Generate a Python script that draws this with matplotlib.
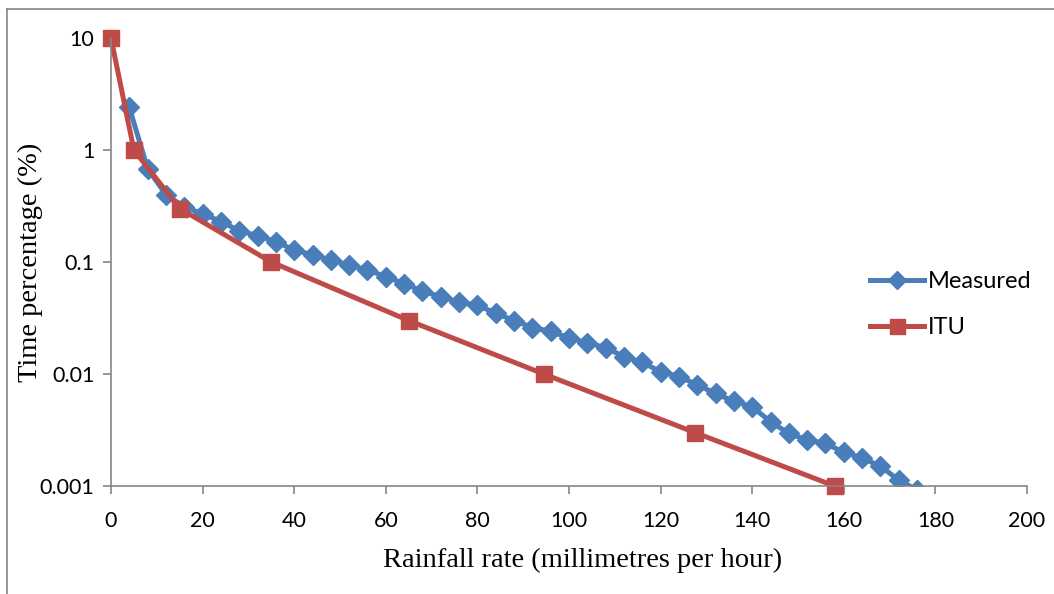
import matplotlib
matplotlib.use("Agg")
import matplotlib.pyplot as plt
from matplotlib.lines import Line2D

# measured exceedance curve (every 4 mm/h)
measured_rate = [4, 8, 12, 16, 20, 24, 28, 32, 36, 40, 44, 48, 52, 56, 60,
                 64, 68, 72, 76, 80, 84, 88, 92, 96, 100, 104, 108, 112, 116,
                 120, 124, 128, 132, 136, 140, 144, 148, 152, 156, 160, 164,
                 168, 172, 176]
measured_pct = [2.4, 0.68, 0.40, 0.31, 0.27, 0.23, 0.19, 0.172, 0.152, 0.128,
                0.116, 0.104, 0.094, 0.085, 0.074, 0.064, 0.055, 0.049, 0.044,
                0.041, 0.035, 0.030, 0.026, 0.024, 0.021, 0.019, 0.0172,
                0.0143, 0.0127, 0.0105, 0.0095, 0.0080, 0.0067, 0.0057,
                0.0051, 0.00375, 0.00295, 0.00257, 0.0024, 0.0020, 0.00178,
                0.0015, 0.00113, 0.00092]

# ITU-R prediction
itu_rate = [0, 5, 15, 35, 65, 94.5, 127.5, 158]
itu_pct = [10, 1, 0.3, 0.1, 0.03, 0.01, 0.003, 0.001]

y_ticks = [0.001, 0.01, 0.1, 1, 10]
y_labels = ["0.001", "0.01", "0.1", "1", "10"]

blue = "#4A7EBB"
red = "#BE4B48"
grey = "#868686"

fig = plt.figure(figsize=(10.54, 5.94), dpi=100)
ax = fig.add_axes([0.1053, 0.1818, 0.8691, 0.7542])

ax.plot(measured_rate, measured_pct, color=blue, lw=3.6, marker="D",
        markersize=10, label="Measured", solid_joinstyle="round")
ax.plot(itu_rate, itu_pct, color=red, lw=3.6, marker="s",
        markersize=12, label="ITU", solid_joinstyle="round", clip_on=False)

ax.set_yscale("log")
ax.set_ylim(0.001, 10)
ax.set_xlim(0, 200)
ax.set_xticks(range(0, 201, 20))
ax.set_yticks(y_ticks)
ax.set_yticklabels(y_labels)
ax.minorticks_off()

for side in ("top", "right"):
    ax.spines[side].set_visible(False)
for side in ("left", "bottom"):
    ax.spines[side].set_color(grey)
    ax.spines[side].set_linewidth(1.2)

ax.tick_params(axis="both", colors=grey, labelcolor="black", length=6,
               width=1.2, labelsize=15.5)
ax.tick_params(axis="x", direction="out", pad=12)
ax.tick_params(axis="y", direction="out", pad=6)
for lab in ax.get_xticklabels() + ax.get_yticklabels():
    lab.set_fontfamily("Lato")

fig.text(0.5527, 0.057, "Rainfall rate (millimetres per hour)",
         family="Liberation Serif", fontsize=20.5, ha="center", va="center")
fig.text(0.029, 0.559, "Time percentage (%)", family="Liberation Serif",
         fontsize=20.5, rotation=90, ha="center", va="center")

leg = ax.legend(loc="center left", bbox_to_anchor=(0.829, 0.405),
                frameon=False, borderpad=0, borderaxespad=0,
                prop={"family": "Lato", "size": 17}, handlelength=2.25,
                handletextpad=0.2, labelspacing=1.05, markerscale=0.9)

# outer chart border (top and left visible)
fig.add_artist(Line2D([0.0066, 1.0], [0.985, 0.985], color=grey, lw=1.2))
fig.add_artist(Line2D([0.0066, 0.0066], [0.0, 0.985], color=grey, lw=1.2))

fig.savefig("out.png", dpi=100)
